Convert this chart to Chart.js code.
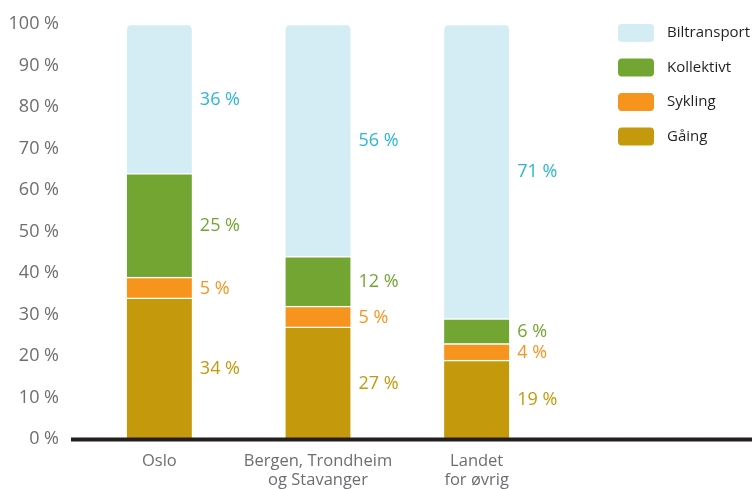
<!DOCTYPE html>
<html lang="no">
<head>
    <meta charset="UTF-8">
    <title>Reisemiddelfordeling</title>
    <script src="https://cdn.jsdelivr.net/npm/chart.js"></script>
    <style>
        html, body { margin: 0; padding: 0; background: #fff; }
        #wrap { width: 752px; height: 489px; position: relative; }
    </style>
</head>
<body>
    <div id="wrap">
        <canvas id="chart" width="752" height="489"></canvas>
    </div>

    <script>
        // data
        var categories = [['Oslo'], ['Bergen, Trondheim', 'og Stavanger'], ['Landet', 'for øvrig']];
        var gaaing = [34, 27, 19];
        var sykling = [5, 5, 4];
        var kollektivt = [25, 12, 6];
        var biltransport = [36, 56, 71];
        var yTicks = [0, 10, 20, 30, 40, 50, 60, 70, 80, 90, 100];

        var FONT = '"Open Sans", sans-serif';

        // labels to the right of each segment
        var valueLabels = {
            id: 'valueLabels',
            afterDatasetsDraw: function(chart) {
                var ctx = chart.ctx;
                ctx.save();
                ctx.font = '18px ' + FONT;
                ctx.textAlign = 'left';
                ctx.textBaseline = 'middle';
                chart.data.datasets.forEach(function(ds, i) {
                    var meta = chart.getDatasetMeta(i);
                    ctx.fillStyle = ds.labelColor;
                    meta.data.forEach(function(bar, j) {
                        var p = bar.getProps(['x', 'y', 'base', 'width'], true);
                        ctx.fillText(ds.data[j] + ' %', p.x + p.width / 2 + 8, (p.y + p.base) / 2 + 1);
                    });
                });
                ctx.restore();
            }
        };

        // thick base line, runs to the right edge
        var baseLine = {
            id: 'baseLine',
            afterDatasetsDraw: function(chart) {
                var ctx = chart.ctx;
                var y = chart.scales.y.getPixelForValue(0);
                ctx.save();
                ctx.strokeStyle = '#231f20';
                ctx.lineWidth = 4;
                ctx.beginPath();
                ctx.moveTo(chart.chartArea.left - 9, y + 0.5);
                ctx.lineTo(chart.width, y + 0.5);
                ctx.stroke();
                ctx.restore();
            }
        };

        // legend drawn by hand, top item = top segment
        var sideLegend = {
            id: 'sideLegend',
            afterDraw: function(chart) {
                var ctx = chart.ctx;
                var items = chart.data.datasets.slice().reverse();
                ctx.save();
                ctx.font = '15px ' + FONT;
                ctx.textBaseline = 'middle';
                items.forEach(function(ds, k) {
                    var cy = 33 + k * 34.5;
                    ctx.fillStyle = ds.backgroundColor;
                    ctx.beginPath();
                    ctx.roundRect(618, cy - 9, 36, 18, 4);
                    ctx.fill();
                    ctx.fillStyle = '#231f20';
                    ctx.fillText(ds.label, 667, cy);
                });
                ctx.restore();
            }
        };

        var ctx = document.getElementById('chart').getContext('2d');
        var chart = new Chart(ctx, {
            type: 'bar',
            data: {
                labels: categories,
                datasets: [
                    { label: 'Gåing', data: gaaing, backgroundColor: '#c4990b', labelColor: '#c4990b' },
                    { label: 'Sykling', data: sykling, backgroundColor: '#f7941e', labelColor: '#f7941e' },
                    { label: 'Kollektivt', data: kollektivt, backgroundColor: '#73a533', labelColor: '#73a533' },
                    { label: 'Biltransport', data: biltransport, backgroundColor: '#d4ecf4', labelColor: '#2bb6d8',
                      borderRadius: { topLeft: 6, topRight: 6 } }
                ]
            },
            options: {
                responsive: false,
                animation: false,
                layout: { padding: { top: 24, right: 196, bottom: 0, left: 0 } },
                datasets: {
                    bar: {
                        barThickness: 65,
                        borderColor: '#ffffff',
                        borderWidth: { top: 1.5, bottom: 0, left: 0, right: 0 },
                        borderSkipped: false
                    }
                },
                plugins: {
                    legend: { display: false },
                    tooltip: { enabled: false }
                },
                scales: {
                    x: {
                        stacked: true,
                        grid: { display: false, drawTicks: false },
                        border: { display: false },
                        ticks: {
                            color: '#6d6e71',
                            padding: 13,
                            font: { family: FONT, size: 16.5, lineHeight: 1.15 }
                        },
                        afterFit: function(s) { s.height = 50; }
                    },
                    y: {
                        stacked: true,
                        min: 0,
                        max: 100,
                        // invisible tick marks make the gap between labels and bars
                        grid: { drawOnChartArea: false, drawTicks: true, tickLength: 21, color: 'rgba(0,0,0,0)' },
                        border: { display: false },
                        afterBuildTicks: function(s) {
                            s.ticks = yTicks.map(function(v) { return { value: v }; });
                        },
                        ticks: {
                            color: '#6d6e71',
                            padding: 0,
                            font: { family: FONT, size: 18 },
                            callback: function(v) { return v + ' %'; }
                        },
                        afterFit: function(s) { s.width = 80; }
                    }
                }
            },
            plugins: [valueLabels, baseLine, sideLegend]
        });
    </script>
</body>
</html>
